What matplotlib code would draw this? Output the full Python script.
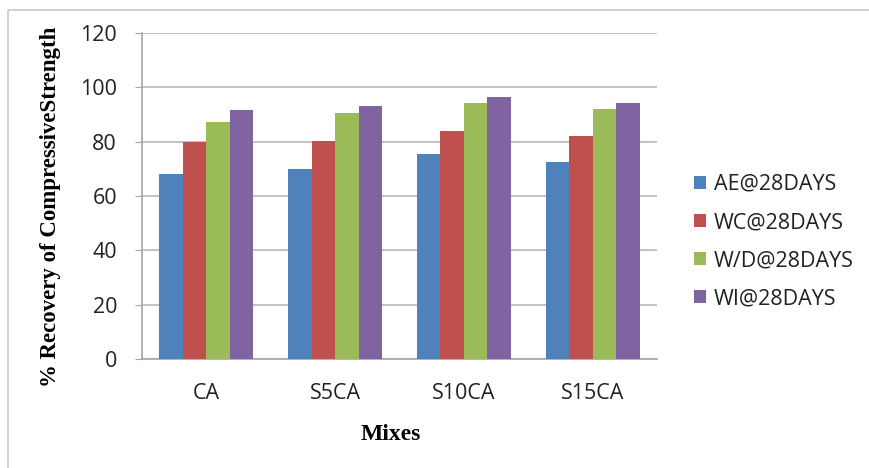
import numpy as np
import matplotlib.pyplot as plt
from matplotlib.lines import Line2D

# mixes and recovery values (%) at 28 days
mixes = ["CA", "S5CA", "S10CA", "S15CA"]
series_names = ["AE@28DAYS", "WC@28DAYS", "W/D@28DAYS", "WI@28DAYS"]
ae_28 = [68.1, 69.8, 75.4, 72.4]
wc_28 = [79.7, 80.3, 83.9, 82.1]
wd_28 = [87.1, 90.7, 94.3, 92.0]
wi_28 = [91.6, 93.1, 96.3, 94.3]
colors = ["#4F81BD", "#C0504D", "#9BBB59", "#8064A2"]

fig = plt.figure(figsize=(8.7, 4.68), dpi=100)
ax = fig.add_axes([142 / 870, 1 - 359 / 468, 515 / 870, 326 / 468])

# light chart frame: left and top edges
fx, fy = 8 / 870, 1 - 10 / 468
fig.lines.append(Line2D([fx, fx, 1.0], [0.0, fy, fy], transform=fig.transFigure,
                        color="#C8C8C8", linewidth=1.2))

x = np.arange(len(mixes))
w = 0.183
for i, (vals, name) in enumerate(zip([ae_28, wc_28, wd_28, wi_28], series_names)):
    ax.bar(x + (i - 1.5) * w, vals, w, color=colors[i], label=name, zorder=3)

ax.set_xlim(-0.5, 3.5)
ax.set_ylim(0, 120)
ax.set_yticks(range(0, 121, 20))
ax.set_xticks(x)
ax.set_xticklabels(mixes)
ax.yaxis.grid(True, color="#BDBDBD", linewidth=1.3, zorder=0)
ax.set_axisbelow(True)

for side in ["top", "right"]:
    ax.spines[side].set_visible(False)
for side in ["left", "bottom"]:
    ax.spines[side].set_color("#A6A6A6")
    ax.spines[side].set_linewidth(1.2)

ax.tick_params(axis="y", length=5, color="#A6A6A6", pad=13, labelsize=15.5)
ax.tick_params(axis="x", length=0, pad=17, labelsize=15.5)
for lbl in ax.get_xticklabels() + ax.get_yticklabels():
    lbl.set_family("Open Sans")
    lbl.set_color("#222222")

ax.set_xlabel("Mixes", family="Liberation Serif", fontweight="bold", fontsize=17)
ax.xaxis.set_label_coords(0.483, -0.20)
ax.set_ylabel("% Recovery of CompressiveStrength", family="Liberation Serif",
              fontweight="bold", fontsize=16.5)
ax.yaxis.set_label_coords(-0.157, 0.466)

leg = ax.legend(loc="center left", bbox_to_anchor=(1.035, 0.36), frameon=False,
                prop={"family": "Open Sans", "size": 15.5},
                handlelength=0.55, handleheight=0.55, handletextpad=0.35,
                labelspacing=0.8)
for t in leg.get_texts():
    t.set_color("#222222")

fig.savefig("out.png", dpi=100)
